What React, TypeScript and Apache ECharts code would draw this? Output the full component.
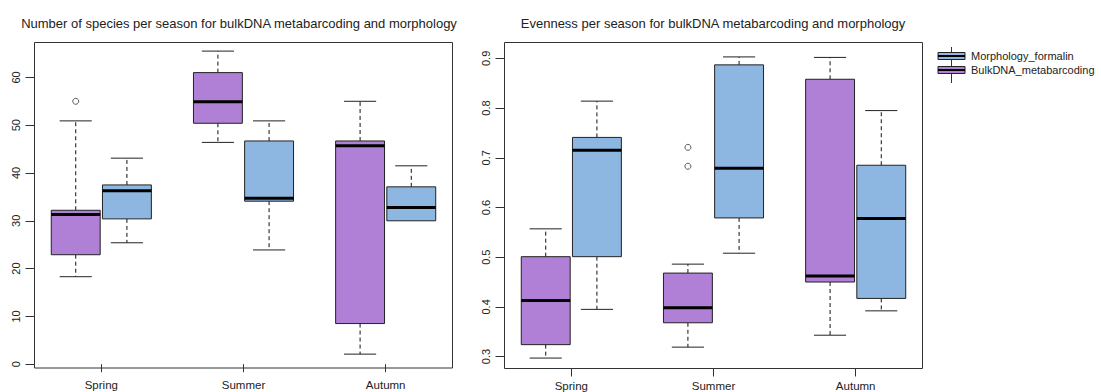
import React, { useEffect, useRef } from "react";
import * as echarts from "echarts";

// Seasons on the x axis (positions 1, 2, 3)
const seasons = ["Spring", "Summer", "Autumn"];

// Five-number summaries per season: [min, q1, median, q3, max]
const richnessBulk = [
  [18.3, 22.9, 31.3, 32.2, 50.9],
  [46.4, 50.4, 54.9, 61.0, 65.5],
  [2.1, 8.5, 45.7, 46.7, 55.0],
];
const richnessMorph = [
  [25.4, 30.4, 36.3, 37.5, 43.1],
  [23.9, 34.1, 34.7, 46.7, 50.9],
  [30.0, 30.0, 32.8, 37.1, 41.5],
];
// Outliers: [season index, value]
const richnessBulkOutliers = [[0, 55.0]];
const richnessMorphOutliers: number[][] = [];

const evenBulk = [
  [0.297, 0.324, 0.413, 0.501, 0.557],
  [0.319, 0.368, 0.398, 0.468, 0.486],
  [0.343, 0.45, 0.462, 0.858, 0.902],
];
const evenMorph = [
  [0.395, 0.501, 0.715, 0.741, 0.814],
  [0.508, 0.579, 0.679, 0.887, 0.903],
  [0.392, 0.417, 0.578, 0.685, 0.795],
];
const evenBulkOutliers = [
  [1, 0.721],
  [1, 0.683],
];
const evenMorphOutliers: number[][] = [];

const richnessTicks = [0, 10, 20, 30, 40, 50, 60];
const evenTicks = [0.3, 0.4, 0.5, 0.6, 0.7, 0.8, 0.9];

const PURPLE = "#B07FD6";
const BLUE = "#8DB7E0";
const FONT = "'Liberation Sans', Arial, sans-serif";

// Box geometry in x-axis units
const PAIR_OFFSET = 0.18;
const BOX_HALF = 0.172;
const CAP_HALF = 0.113;

function boxSeries(name: string, stats: number[][], offset: number, color: string, axisIndex: number) {
  return {
    type: "custom",
    name,
    xAxisIndex: axisIndex,
    yAxisIndex: axisIndex,
    data: stats.map((s, i) => [i + 1 + offset, ...s]),
    encode: { x: 0, y: [1, 2, 3, 4, 5] },
    renderItem: (_params: any, api: any) => {
      const x = api.value(0);
      const mn = api.value(1);
      const q1 = api.value(2);
      const md = api.value(3);
      const q3 = api.value(4);
      const mx = api.value(5);
      const c = (dx: number, v: number) => api.coord([x + dx, v]);
      const [xl] = c(-BOX_HALF, md);
      const [xr] = c(BOX_HALF, md);
      const [xm] = c(0, md);
      const [cl] = c(-CAP_HALF, md);
      const [cr] = c(CAP_HALF, md);
      const yMin = c(0, mn)[1];
      const yQ1 = c(0, q1)[1];
      const yMd = c(0, md)[1];
      const yQ3 = c(0, q3)[1];
      const yMax = c(0, mx)[1];
      const children: any[] = [];
      const dash = { stroke: "#111", lineWidth: 1, lineDash: [4, 3] };
      const cap = { stroke: "#222", lineWidth: 1 };
      if (mx > q3) {
        children.push({ type: "line", shape: { x1: xm, y1: yQ3, x2: xm, y2: yMax }, style: dash });
        children.push({ type: "line", shape: { x1: cl, y1: yMax, x2: cr, y2: yMax }, style: cap });
      }
      if (mn < q1) {
        children.push({ type: "line", shape: { x1: xm, y1: yQ1, x2: xm, y2: yMin }, style: dash });
        children.push({ type: "line", shape: { x1: cl, y1: yMin, x2: cr, y2: yMin }, style: cap });
      }
      children.push({
        type: "rect",
        shape: { x: xl, y: yQ3, width: xr - xl, height: yQ1 - yQ3 },
        style: { fill: color, stroke: "#222", lineWidth: 1 },
      });
      children.push({
        type: "line",
        shape: { x1: xl, y1: yMd, x2: xr, y2: yMd },
        style: { stroke: "#000", lineWidth: 3 },
      });
      return { type: "group", children };
    },
  };
}

function outlierSeries(points: number[][], offset: number, axisIndex: number) {
  return {
    type: "scatter",
    xAxisIndex: axisIndex,
    yAxisIndex: axisIndex,
    symbol: "circle",
    symbolSize: 6,
    itemStyle: { color: "#fff", borderColor: "#333", borderWidth: 1 },
    data: points.map(([s, v]) => [s + 1 + offset, v]),
  };
}

function xAxisFor(gridIndex: number) {
  return {
    type: "value",
    gridIndex,
    min: 0.53,
    max: 3.47,
    splitLine: { show: false },
    axisLine: { show: false },
    axisTick: { show: true, length: 8, lineStyle: { color: "#333" }, customValues: [1, 2, 3] },
    axisLabel: {
      customValues: [1, 2, 3],
      formatter: (v: number) => seasons[Math.round(v) - 1],
      fontSize: 11.5,
      color: "#222",
      fontFamily: FONT,
      margin: 11,
    },
  };
}

function yAxisFor(gridIndex: number, min: number, max: number, ticks: number[]) {
  return {
    type: "value",
    gridIndex,
    min,
    max,
    splitLine: { show: false },
    axisLine: { show: false },
    axisTick: { show: true, length: 9, lineStyle: { color: "#333" }, customValues: ticks },
    axisLabel: {
      customValues: ticks,
      rotate: 90,
      fontSize: 11,
      color: "#222",
      fontFamily: FONT,
      margin: 13,
    },
  };
}

const legendItems = [
  { name: "Morphology_formalin", color: BLUE, y: 56 },
  { name: "BulkDNA_metabarcoding", color: PURPLE, y: 70 },
];

export default function App() {
  const ref = useRef<HTMLDivElement>(null);

  useEffect(() => {
    if (!ref.current) return;
    const chart = echarts.init(ref.current, null, { renderer: "svg" });

    const legendGraphics: any[] = [
      {
        type: "line",
        shape: { x1: 951.5, y1: 47, x2: 951.5, y2: 83 },
        style: { stroke: "#333", lineWidth: 1 },
      },
    ];
    legendItems.forEach((it) => {
      legendGraphics.push({
        type: "rect",
        shape: { x: 938, y: it.y - 3.5, width: 27, height: 7 },
        style: { fill: it.color, stroke: "#222", lineWidth: 1 },
      });
      legendGraphics.push({
        type: "line",
        shape: { x1: 938, y1: it.y, x2: 965, y2: it.y },
        style: { stroke: "#000", lineWidth: 2 },
      });
      legendGraphics.push({
        type: "text",
        x: 971,
        y: it.y,
        style: {
          text: it.name,
          fontSize: 11,
          fontFamily: FONT,
          fill: "#222",
          verticalAlign: "middle",
          align: "left",
        },
      });
    });

    chart.setOption({
      animation: false,
      backgroundColor: "#fff",
      title: [
        {
          text: "Number of species per season for bulkDNA metabarcoding and morphology",
          left: 234,
          top: 12,
          textAlign: "center",
          textStyle: { fontSize: 13, fontWeight: "normal", color: "#222", fontFamily: FONT },
        },
        {
          text: "Evenness per season for bulkDNA metabarcoding and morphology",
          left: 708,
          top: 12,
          textAlign: "center",
          textStyle: { fontSize: 13, fontWeight: "normal", color: "#222", fontFamily: FONT },
        },
      ],
      grid: [
        { left: 34.5, top: 42.5, width: 418, height: 325.5, show: true, borderColor: "#333", borderWidth: 1, backgroundColor: "transparent" },
        { left: 504.5, top: 42.5, width: 418, height: 326, show: true, borderColor: "#333", borderWidth: 1, backgroundColor: "transparent" },
      ],
      xAxis: [xAxisFor(0), xAxisFor(1)],
      yAxis: [yAxisFor(0, -0.8, 67.3, richnessTicks), yAxisFor(1, 0.276, 0.932, evenTicks)],
      series: [
        boxSeries("BulkDNA_metabarcoding", richnessBulk, -PAIR_OFFSET, PURPLE, 0),
        boxSeries("Morphology_formalin", richnessMorph, PAIR_OFFSET, BLUE, 0),
        outlierSeries(richnessBulkOutliers, -PAIR_OFFSET, 0),
        outlierSeries(richnessMorphOutliers, PAIR_OFFSET, 0),
        boxSeries("BulkDNA_metabarcoding", evenBulk, -PAIR_OFFSET, PURPLE, 1),
        boxSeries("Morphology_formalin", evenMorph, PAIR_OFFSET, BLUE, 1),
        outlierSeries(evenBulkOutliers, -PAIR_OFFSET, 1),
        outlierSeries(evenMorphOutliers, PAIR_OFFSET, 1),
      ],
      graphic: legendGraphics,
    });

    return () => chart.dispose();
  }, []);

  return (
    <div
      ref={ref}
      style={{ position: "fixed", left: 0, top: 0, width: 1101, height: 392, background: "#fff" }}
    />
  );
}
